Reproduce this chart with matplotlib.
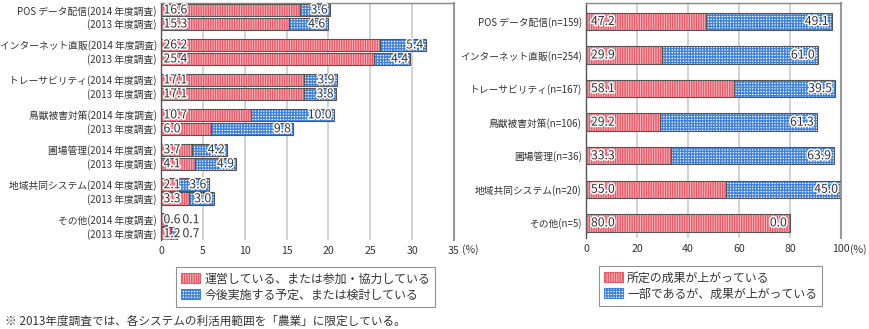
import matplotlib
matplotlib.use("Agg")
import matplotlib.pyplot as plt
import matplotlib.patheffects as pe
from matplotlib.patches import Patch

plt.rcParams['font.family'] = ['Noto Sans CJK JP', 'DejaVu Sans']
plt.rcParams['hatch.linewidth'] = 1.0

# ---------------- data ----------------
left_cats = ['POS データ配信', 'インターネット直販', 'トレーサビリティ', '鳥獣被害対策',
             '圃場管理', '地域共同システム', 'その他']
run_2014 = [16.6, 26.2, 17.1, 10.7, 3.7, 2.1, 0.6]
plan_2014 = [3.6, 5.4, 3.9, 10.0, 4.2, 3.6, 0.1]
run_2013 = [15.3, 25.4, 17.1, 6.0, 4.1, 3.3, 1.2]
plan_2013 = [4.6, 4.4, 3.8, 9.8, 4.9, 3.0, 0.7]
left_ticks = [0, 5, 10, 15, 20, 25, 30, 35]
left_legend = ['運営している、または参加・協力している', '今後実施する予定、または検討している']

right_cats = ['POS データ配信', 'インターネット直販', 'トレーサビリティ', '鳥獣被害対策',
              '圃場管理', '地域共同システム', 'その他']
right_n = [159, 254, 167, 106, 36, 20, 5]
full_effect = [47.2, 29.9, 58.1, 29.2, 33.3, 55.0, 80.0]
part_effect = [49.1, 61.0, 39.5, 61.3, 63.9, 45.0, 0.0]
right_ticks = [0, 20, 40, 60, 80, 100]
right_legend = ['所定の成果が上がっている', '一部であるが、成果が上がっている']

footnote = '※ 2013年度調査では、各システムの利活用範囲を「農業」に限定している。'

# ---------------- style ----------------
RED_FACE, RED_HATCH, RED_PAT = '#f7b6bd', '#e85a68', '|||||||'
BLUE_FACE, BLUE_HATCH, BLUE_PAT = '#ffffff', '#4183da', '++++++'
EDGE = '#555555'
GRID = '#cfcfcf'
TXT = '#333333'
halo = [pe.withStroke(linewidth=2.2, foreground='white')]

W, H = 870, 329
fig = plt.figure(figsize=(W / 100, H / 100), dpi=100)


def px_axes(x0, y0, x1, y1):
    return fig.add_axes([x0 / W, 1 - y1 / H, (x1 - x0) / W, (y1 - y0) / H])


def seg(ax, y, left, width, h, face, hcol, pat):
    ax.barh(y, width, left=left, height=h, color=face, edgecolor=hcol,
            hatch=pat, linewidth=0, zorder=2)
    ax.barh(y, width, left=left, height=h, fill=False, edgecolor=EDGE,
            linewidth=0.8, zorder=3)


def style_axes(ax, ticks, xmax):
    ax.set_xlim(0, xmax)
    ax.set_xticks(ticks)
    ax.set_xticklabels([str(t) for t in ticks])
    ax.grid(axis='x', color=GRID, linewidth=1.3)
    ax.set_axisbelow(True)
    ax.tick_params(axis='x', length=0, pad=4, labelsize=7.6, colors=TXT)
    ax.tick_params(axis='y', length=0, pad=3, labelsize=7.0, colors=TXT)
    ax.spines['bottom'].set_visible(False)
    ax.spines['left'].set_color('#555555')
    ax.spines['left'].set_linewidth(1.0)
    ax.spines['top'].set_color('#888888')
    ax.spines['top'].set_linewidth(1.0)
    ax.spines['right'].set_color('#999999')
    ax.spines['right'].set_linewidth(1.5)


# ---------------- left chart ----------------
axL = px_axes(161, 3, 454, 240)
ypos, ylabels = [], []
for i, cat in enumerate(left_cats):
    y1 = i * 2.5
    y2 = i * 2.5 + 1
    for y, r, p in ((y1, run_2014[i], plan_2014[i]), (y2, run_2013[i], plan_2013[i])):
        seg(axL, y, 0, r, 0.9, RED_FACE, RED_HATCH, RED_PAT)
        seg(axL, y, r, p, 0.9, BLUE_FACE, BLUE_HATCH, BLUE_PAT)
        axL.annotate(f'{r:.1f}', (0, y), xytext=(2.5, 0), textcoords='offset pixels',
                     ha='left', va='center', fontsize=8.8, color=TXT,
                     path_effects=halo, zorder=5)
        xend = max(r + p, 4.9)
        axL.annotate(f'{p:.1f}', (xend, y), xytext=(-2.5, 0), textcoords='offset pixels',
                     ha='right', va='center', fontsize=8.8, color=TXT,
                     path_effects=halo, zorder=5)
    ypos += [y1, y2]
    ylabels += [f'{cat}(2014 年度調査)', '(2013 年度調査)']
axL.set_yticks(ypos)
axL.set_yticklabels(ylabels)
axL.set_ylim(16.45, -0.5)
style_axes(axL, left_ticks, 35)
axL.annotate('(%)', (35, 0), xycoords=('data', 'axes fraction'), xytext=(8, -10),
             textcoords='offset pixels', ha='left', va='center', fontsize=7.6, color=TXT)

# ---------------- right chart ----------------
axR = px_axes(586, 3, 841, 238)
for i in range(len(right_cats)):
    f, p = full_effect[i], part_effect[i]
    seg(axR, i, 0, f, 0.52, RED_FACE, RED_HATCH, RED_PAT)
    if p > 0:
        seg(axR, i, f, p, 0.52, BLUE_FACE, BLUE_HATCH, BLUE_PAT)
    axR.annotate(f'{f:.1f}', (0, i), xytext=(5, 0), textcoords='offset pixels',
                 ha='left', va='center', fontsize=8.8, color=TXT,
                 path_effects=halo, zorder=5)
    axR.annotate(f'{p:.1f}', (f + p, i), xytext=(-3, 0), textcoords='offset pixels',
                 ha='right', va='center', fontsize=8.8, color=TXT,
                 path_effects=halo, zorder=5)
axR.set_yticks(range(len(right_cats)))
axR.set_yticklabels([f'{c}(n={n})' for c, n in zip(right_cats, right_n)])
axR.set_ylim(6.45, -0.55)
style_axes(axR, right_ticks, 100)
axR.annotate('(%)', (100, 0), xycoords=('data', 'axes fraction'), xytext=(9, -12),
             textcoords='offset pixels', ha='left', va='center', fontsize=7.6, color=TXT)


# ---------------- legends ----------------
def make_legend(labels, x0, y0):
    handles = [Patch(facecolor=RED_FACE, edgecolor=RED_HATCH, hatch=RED_PAT, linewidth=0.8),
               Patch(facecolor=BLUE_FACE, edgecolor=BLUE_HATCH, hatch=BLUE_PAT, linewidth=0.8)]
    leg = fig.legend(handles, labels, loc='upper left',
                     bbox_to_anchor=(x0 / W, 1 - y0 / H), borderaxespad=0,
                     fontsize=8.6, frameon=True, fancybox=False, edgecolor='#777777',
                     handlelength=1.6, handleheight=0.85, handletextpad=0.3,
                     labelspacing=0.25, borderpad=0.45)
    leg.get_frame().set_linewidth(0.8)
    for t in leg.get_texts():
        t.set_color(TXT)
    return leg


make_legend(left_legend, 176, 267)
make_legend(right_legend, 599, 266)

fig.text(5 / W, 1 - 321 / H, footnote, ha='left', va='center', fontsize=8.4, color=TXT)

fig.savefig('out.png', dpi=100)
